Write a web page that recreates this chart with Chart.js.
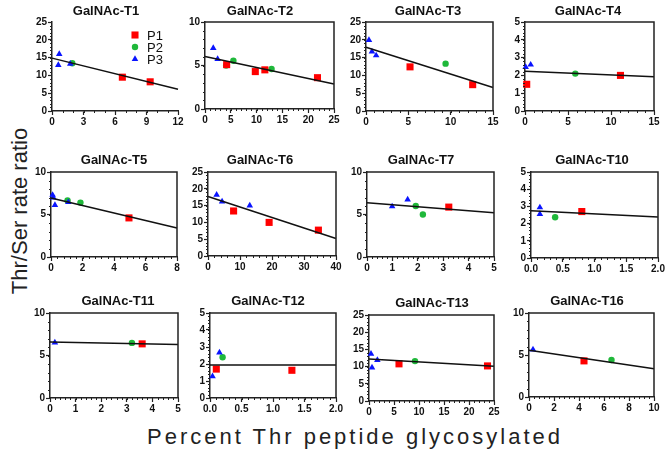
<!DOCTYPE html>
<html>
<head>
<meta charset="utf-8">
<script src="https://cdn.jsdelivr.net/npm/chart.js@4.4.1/dist/chart.umd.min.js"></script>
<style>
  body { margin: 0; background: #fff; }
  #wrap { position: relative; width: 666px; height: 457px; overflow: hidden; font-family: "Liberation Sans", Arial, sans-serif; }
  .panel { position: absolute; }
  .ptitle { position: absolute; font-weight: bold; font-size: 13px; color: #111; white-space: nowrap; transform: translate(-50%, -50%); }
  #ylab { position: absolute; left: 20px; top: 211px; font-size: 22px; color: #222; white-space: nowrap; transform: translate(-50%, -50%) rotate(-90deg); }
  #xlab { position: absolute; left: 355px; top: 437px; font-size: 22px; letter-spacing: 3px; color: #222; white-space: nowrap; transform: translate(-50%, -50%); }
</style>
</head>
<body>
<div id="wrap">
  <div id="ylab">Thr/Ser rate ratio</div>
  <div id="xlab">Percent Thr peptide glycosylated</div>
</div>
<script>
// values
const panelTitles = ['GalNAc-T1', 'GalNAc-T2', 'GalNAc-T3', 'GalNAc-T4', 'GalNAc-T5', 'GalNAc-T6',
    'GalNAc-T7', 'GalNAc-T10', 'GalNAc-T11', 'GalNAc-T12', 'GalNAc-T13', 'GalNAc-T16'];
const seriesLabels = ['P1', 'P2', 'P3'];
const xMax = [12, 25, 15, 15, 8, 40, 5, 2, 5, 2, 25, 10];
const xStep = [3, 5, 5, 5, 2, 10, 1, 0.5, 1, 0.5, 5, 2];
const yMax = [25, 10, 25, 5, 10, 25, 10, 5, 10, 5, 25, 10];
const yStep = [5, 5, 5, 1, 5, 5, 5, 1, 5, 1, 5, 5];

const p1 = [
    [[6.7, 9.5], [9.35, 8.2]],
    [[4.2, 5.1], [9.75, 4.3], [11.6, 4.5], [21.8, 3.6]],
    [[5.2, 12.4], [12.6, 7.4]],
    [[0.2, 1.5], [11.1, 2.0]],
    [[4.95, 4.6]],
    [[8.0, 13.4], [19.1, 10.0], [34.5, 7.7]],
    [[3.22, 5.87]],
    [[0.8, 2.7]],
    [[3.6, 6.37]],
    [[0.1, 1.7], [1.3, 1.63]],
    [[6.0, 10.8], [23.7, 10.2]],
    [[4.4, 4.3]]
];
const p2 = [
    [[1.93, 13.4]],
    [[4.1, 5.0], [5.5, 5.55], [12.9, 4.6]],
    [[9.4, 13.3]],
    [[5.85, 2.1]],
    [[1.05, 6.65], [1.87, 6.4]],
    [],
    [[1.92, 6.0], [2.2, 5.0]],
    [[0.38, 2.37]],
    [[3.2, 6.48]],
    [[0.2, 2.4]],
    [[9.2, 11.6]],
    [[6.6, 4.4]]
];
const p3 = [
    [[0.69, 16.0], [0.6, 12.9], [1.74, 13.25]],
    [[1.6, 7.0], [2.45, 5.75]],
    [[0.35, 19.9], [0.7, 16.7], [1.2, 15.6]],
    [[0.08, 2.47], [0.66, 2.6]],
    [[0.1, 7.3], [0.15, 7.0], [0.25, 6.1], [1.1, 6.45]],
    [[2.7, 18.2], [4.4, 16.2], [13.05, 15.0]],
    [[0.99, 5.95], [1.6, 6.75]],
    [[0.14, 2.94], [0.14, 2.55]],
    [[0.19, 6.52]],
    [[0.04, 1.27], [0.15, 2.67]],
    [[0.4, 13.7], [0.6, 9.7], [1.67, 11.9]],
    [[0.32, 5.65]]
];
// fitted line: value at x = 0 and at x = xMax
const fitAtZero = [14.85, 6.04, 17.9, 2.23, 6.94, 17.7, 6.39, 2.75, 6.6, 1.94, 12.2, 5.57];
const fitAtMax = [6.1, 2.88, 6.6, 1.93, 3.41, 5.2, 5.2, 2.39, 6.29, 1.94, 10.1, 3.37];

// plot area boxes on the page: left, top, right, bottom, title centre x, title centre y
const boxes = [
    [52, 22, 178, 111, 106, 10], [205, 22, 334, 109, 260, 10], [366, 22, 493, 111, 428, 10], [525, 22, 654, 111, 588, 10],
    [51, 172, 177, 257, 114, 159], [208, 172, 336, 256, 260, 159], [367, 172, 494, 257, 421, 159], [531, 172, 658, 258, 592, 159],
    [50, 313, 178, 398, 118, 300], [210, 313, 336, 398, 268, 300], [369, 315, 494, 401, 432, 302], [529, 313, 654, 397, 587, 300]
];

const colours = { P1: '#ff0000', P2: '#1fb83a', P3: '#0a14ff' };
const marker = {
    P1: { pointStyle: 'rect', pointRadius: 5 },
    P2: { pointStyle: 'circle', pointRadius: 3.2 },
    P3: { pointStyle: 'triangle', pointRadius: 3.8 }
};

const YW = 30, PT = 8, PR = 12, XH = 18;
const tickFont = { family: '"Liberation Sans", Arial, sans-serif', size: 10, weight: 'bold' };

const toXY = arr => arr.map(p => ({ x: p[0], y: p[1] }));

// frame + minor ticks
const framePlugin = {
    id: 'frame',
    afterDraw(chart, args, opts) {
        const ctx = chart.ctx;
        const a = chart.chartArea;
        ctx.save();
        ctx.strokeStyle = '#222';
        if (opts.box) {
            ctx.lineWidth = 1.5;
            ctx.beginPath();
            ctx.moveTo(a.left, a.top);
            ctx.lineTo(a.right, a.top);
            ctx.lineTo(a.right, a.bottom);
            ctx.stroke();
        }
        ctx.lineWidth = 1;
        const xs = chart.scales.x, ys = chart.scales.y;
        const xSub = opts.xStep === 3 ? 3 : 5;
        const xMinor = opts.xStep / xSub;
        for (let v = 0; v <= xs.max + 1e-9; v += xMinor) {
            const px = Math.round(xs.getPixelForValue(v)) + 0.5;
            ctx.beginPath();
            ctx.moveTo(px, a.bottom);
            ctx.lineTo(px, a.bottom + 2);
            ctx.stroke();
        }
        const yMinor = opts.yStep / 5;
        for (let v = 0; v <= ys.max + 1e-9; v += yMinor) {
            const py = Math.round(ys.getPixelForValue(v)) + 0.5;
            ctx.beginPath();
            ctx.moveTo(a.left - 2, py);
            ctx.lineTo(a.left, py);
            ctx.stroke();
        }
        ctx.restore();
    }
};

// legend drawn inside the first panel
const insideLegend = {
    id: 'insideLegend',
    afterDraw(chart, args, opts) {
        if (!opts.show) return;
        const ctx = chart.ctx;
        const a = chart.chartArea;
        ctx.save();
        seriesLabels.forEach((lab, k) => {
            const mx = a.left + 83, my = a.top + 13 + k * 12;
            ctx.fillStyle = colours[lab];
            ctx.strokeStyle = colours[lab];
            Chart.helpers.drawPoint(ctx, { pointStyle: marker[lab].pointStyle, radius: marker[lab].pointRadius, rotation: 0, borderWidth: 0 }, mx, my);
            ctx.fillStyle = '#111';
            ctx.font = '13px "Liberation Sans", Arial, sans-serif';
            ctx.textBaseline = 'middle';
            ctx.fillText(lab, mx + 12, my + 1);
        });
        ctx.restore();
    }
};

const wrap = document.getElementById('wrap');

panelTitles.forEach((title, i) => {
    const [l, t, r, b, tx, ty] = boxes[i];
    const w = (r - l) + YW + PR;
    const h = (b - t) + PT + XH;

    const holder = document.createElement('div');
    holder.className = 'panel';
    holder.style.left = (l - YW) + 'px';
    holder.style.top = (t - PT) + 'px';
    const canvas = document.createElement('canvas');
    canvas.width = w;
    canvas.height = h;
    canvas.style.width = w + 'px';
    canvas.style.height = h + 'px';
    holder.appendChild(canvas);
    wrap.appendChild(holder);

    const tdiv = document.createElement('div');
    tdiv.className = 'ptitle';
    tdiv.style.left = tx + 'px';
    tdiv.style.top = ty + 'px';
    tdiv.textContent = title;
    wrap.appendChild(tdiv);

    const series = { P1: p1[i], P2: p2[i], P3: p3[i] };
    const pointSets = ['P1', 'P3', 'P2'].map(lab => ({
        label: lab,
        data: toXY(series[lab]),
        pointStyle: marker[lab].pointStyle,
        pointRadius: marker[lab].pointRadius,
        pointBackgroundColor: colours[lab],
        pointBorderColor: colours[lab],
        pointBorderWidth: 0,
        showLine: false,
        clip: false
    }));

    const decimals = xStep[i] < 1 ? 1 : 0;

    new Chart(canvas, {
        type: 'scatter',
        data: {
            datasets: [{
                type: 'line',
                label: 'fit',
                data: [{ x: 0, y: fitAtZero[i] }, { x: xMax[i], y: fitAtMax[i] }],
                borderColor: '#111',
                borderWidth: 1.5,
                pointRadius: 0,
                fill: false,
                clip: false
            }].concat(pointSets)
        },
        options: {
            responsive: false,
            animation: false,
            events: [],
            layout: { padding: { top: PT, right: PR, left: 0, bottom: 0 } },
            plugins: {
                legend: { display: false },
                tooltip: { enabled: false },
                frame: { box: i !== 0, xStep: xStep[i], yStep: yStep[i] },
                insideLegend: { show: i === 0 }
            },
            scales: {
                x: {
                    type: 'linear',
                    min: 0,
                    max: xMax[i],
                    afterFit(s) { s.height = XH; },
                    border: { color: '#222', width: 1.5 },
                    grid: { drawOnChartArea: false, drawTicks: true, tickLength: 4, color: '#222', tickWidth: 1.2 },
                    ticks: {
                        stepSize: xStep[i],
                        autoSkip: false,
                        maxRotation: 0,
                        padding: 1,
                        color: '#111',
                        font: tickFont,
                        callback: v => Number(v).toFixed(decimals)
                    }
                },
                y: {
                    type: 'linear',
                    min: 0,
                    max: yMax[i],
                    afterFit(s) { s.width = YW; },
                    border: { color: '#222', width: 1.5 },
                    grid: { drawOnChartArea: false, drawTicks: true, tickLength: 4, color: '#222', tickWidth: 1.2 },
                    ticks: {
                        stepSize: yStep[i],
                        autoSkip: false,
                        padding: 1,
                        color: '#111',
                        font: tickFont
                    }
                }
            }
        },
        plugins: [framePlugin, insideLegend]
    });
});
</script>
</body>
</html>
